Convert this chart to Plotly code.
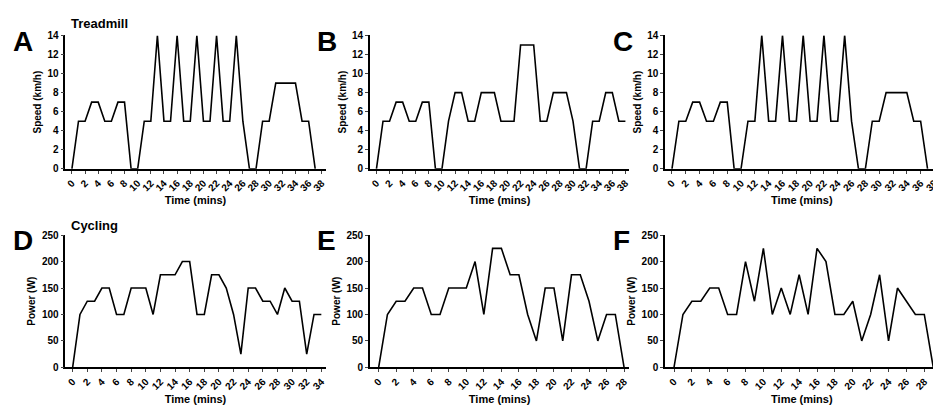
import plotly.graph_objects as go
from plotly.subplots import make_subplots

# treadmill speed (km/h), one value per minute
speed_a = [0, 5, 5, 7, 7, 5, 5, 7, 7, 0, 0, 5, 5, 14, 5, 5, 14, 5, 5, 14, 5, 5, 14, 5, 5, 14, 5, 0, 0,
           5, 5, 9, 9, 9, 9, 5, 5, 0]
speed_b = [0, 5, 5, 7, 7, 5, 5, 7, 7, 0, 0, 5, 8, 8, 5, 5, 8, 8, 8, 5, 5, 5, 13, 13, 13, 5, 5, 8, 8, 8,
           5, 0, 0, 5, 5, 8, 8, 5, 5]
speed_c = [0, 5, 5, 7, 7, 5, 5, 7, 7, 0, 0, 5, 5, 14, 5, 5, 14, 5, 5, 14, 5, 5, 14, 5, 5, 14, 5, 0, 0,
           5, 5, 8, 8, 8, 8, 5, 5, 0]

# cycling power (W), one value per minute
power_d = [0, 100, 125, 125, 150, 150, 100, 100, 150, 150, 150, 100, 175, 175, 175, 200, 200, 100, 100,
           175, 175, 150, 100, 25, 150, 150, 125, 125, 100, 150, 125, 125, 25, 100, 100]
power_e = [0, 100, 125, 125, 150, 150, 100, 100, 150, 150, 150, 200, 100, 225, 225, 175, 175, 100, 50,
           150, 150, 50, 175, 175, 125, 50, 100, 100, 0]
power_f = [0, 100, 125, 125, 150, 150, 100, 100, 200, 125, 225, 100, 150, 100, 175, 100, 225, 200, 100,
           100, 125, 50, 100, 175, 50, 150, 125, 100, 100, 0]

panels = [speed_a, speed_b, speed_c, power_d, power_e, power_f]
letters = ["A", "B", "C", "D", "E", "F"]
x_max = [38, 38, 38, 34, 28, 29]
x_lab = [38, 38, 38, 34, 28, 28]

fig = make_subplots(rows=2, cols=3)
xdom = [(0.061, 0.338), (0.385, 0.661), (0.699, 0.99)]
ydom = [(0.61, 0.946), (0.11, 0.443)]
font = dict(family="Liberation Sans, Arial", size=10, color="black", weight="bold")

for i, vals in enumerate(panels):
    r, c = i // 3 + 1, i % 3 + 1
    fig.add_trace(go.Scatter(x=list(range(len(vals))), y=vals, mode="lines",
                             line=dict(color="black", width=1.6), showlegend=False), row=r, col=c)
    top = 14 if r == 1 else 250
    fig.update_xaxes(domain=xdom[c - 1], range=[-1, x_max[i] + 0.6], tickmode="array",
                     tickvals=list(range(0, x_lab[i] + 1, 2)),
                     ticktext=[str(v) for v in range(0, x_lab[i] + 1, 2)],
                     showline=True, linecolor="black", linewidth=1.5, ticks="outside",
                     ticklen=3, tickfont=font, showgrid=False, zeroline=False,
                     title=dict(text="<b>Time (mins)</b>", font=dict(size=11, color="black"), standoff=4),
                     row=r, col=c)
    fig.update_yaxes(domain=ydom[r - 1], range=[0, top], dtick=2 if r == 1 else 50,
                     showline=True, linecolor="black", linewidth=1.5, ticks="outside",
                     ticklen=3, tickfont=font, showgrid=False, zeroline=False,
                     title=dict(text="<b>Speed (km/h)</b>" if r == 1 else "<b>Power (W)</b>",
                                font=dict(size=10, color="black"), standoff=4),
                     row=r, col=c)
    fig.add_annotation(text="<b>" + letters[i] + "</b>", xref="paper", yref="paper",
                       x=xdom[c - 1][0] - 0.058, y=ydom[r - 1][1] + 0.03, xanchor="left",
                       yanchor="top", showarrow=False, font=dict(size=28, color="black"))

# rotate the minute labels the way the original does
fig.update_xaxes(tickangle=-45)

fig.add_annotation(text="<b>Treadmill</b>", xref="paper", yref="paper", x=0.065, y=1.0,
                   xanchor="left", yanchor="top", showarrow=False, font=dict(size=13, color="black"))
fig.add_annotation(text="<b>Cycling</b>", xref="paper", yref="paper", x=0.065, y=0.49,
                   xanchor="left", yanchor="top", showarrow=False, font=dict(size=13, color="black"))

fig.update_layout(width=941, height=409, margin=dict(l=0, r=0, t=0, b=0),
                  plot_bgcolor="white", paper_bgcolor="white",
                  font=dict(family="Liberation Sans, Arial", color="black"))

fig.write_html("out.html")
